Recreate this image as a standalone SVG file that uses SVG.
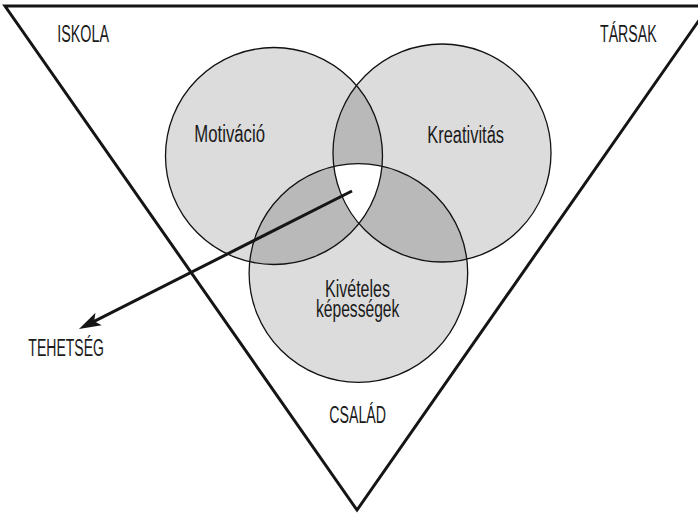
<svg xmlns="http://www.w3.org/2000/svg" width="698" height="513" viewBox="0 0 698 513">
  <style>
    .lbl { font-family: "Liberation Sans", "DejaVu Sans", sans-serif; font-size: 23px; fill: #1a1a1a; }
    .ring { fill: none; stroke: #111; stroke-width: 1.3; }
    .base { fill: #dcdcdc; }
    .pair { fill: #b9b9b9; }
    .core { fill: #ffffff; }
    .frame { fill: none; stroke: #151515; stroke-width: 3; stroke-linejoin: miter; }
    .arrow { stroke: #151515; stroke-width: 3; fill: none; }
  </style>
  <defs>
    <clipPath id="clipMot"><circle cx="274" cy="156" r="108.5"/></clipPath>
    <clipPath id="clipKre"><circle cx="442" cy="153" r="109"/></clipPath>
    <clipPath id="clipKiv"><circle cx="358.4" cy="273" r="109.3"/></clipPath>
    <marker id="head" markerUnits="userSpaceOnUse" viewBox="0 -8 22 16" markerWidth="22" markerHeight="16" refX="10" refY="0" orient="auto">
      <path d="M22,0 L0,-7 L5,0 L0,7 z" fill="#151515"/>
    </marker>
  </defs>

  <!-- outer frame -->
  <g id="frame">
    <polygon class="frame" points="5,6 709,6 357,510"/>
  </g>

  <!-- corner labels -->
  <g id="iskola"><text class="lbl" x="57.3" y="41.7" textLength="51.7" lengthAdjust="spacingAndGlyphs">ISKOLA</text></g>
  <g id="tarsak"><text class="lbl" x="600" y="41.7" textLength="56.7" lengthAdjust="spacingAndGlyphs">TÁRSAK</text></g>
  <g id="csalad"><text class="lbl" x="329.3" y="423.3" textLength="56.7" lengthAdjust="spacingAndGlyphs">CSALÁD</text></g>

  <!-- three circles with shaded overlaps -->
  <g id="venn">
    <circle class="base" cx="274" cy="156" r="108.5"/>
    <circle class="base" cx="442" cy="153" r="109"/>
    <circle class="base" cx="358.4" cy="273" r="109.3"/>
    <g clip-path="url(#clipMot)">
      <circle class="pair" cx="442" cy="153" r="109"/>
      <circle class="pair" cx="358.4" cy="273" r="109.3"/>
    </g>
    <g clip-path="url(#clipKre)">
      <circle class="pair" cx="358.4" cy="273" r="109.3"/>
    </g>
    <g clip-path="url(#clipMot)">
      <g clip-path="url(#clipKre)">
        <circle class="core" cx="358.4" cy="273" r="109.3"/>
      </g>
    </g>
  </g>

  <g id="motivacio">
    <circle class="ring" cx="274" cy="156" r="108.5"/>
    <text class="lbl" x="194.3" y="141.7" textLength="70.7" lengthAdjust="spacingAndGlyphs">Motiváció</text>
  </g>
  <g id="kreativitas">
    <circle class="ring" cx="442" cy="153" r="109"/>
    <text class="lbl" x="427.3" y="142.7" textLength="76.7" lengthAdjust="spacingAndGlyphs">Kreativitás</text>
  </g>
  <g id="kiveteles">
    <circle class="ring" cx="358.4" cy="273" r="109.3"/>
    <text class="lbl" x="325" y="296.7" textLength="65" lengthAdjust="spacingAndGlyphs">Kivételes</text>
    <text class="lbl" x="316" y="317" textLength="83.3" lengthAdjust="spacingAndGlyphs">képességek</text>
  </g>

  <!-- pointer from the common core to the outcome label -->
  <g id="connectors">
    <line class="arrow" x1="352" y1="191" x2="89.7" y2="323.6" marker-end="url(#head)"/>
  </g>

  <g id="tehetseg"><text class="lbl" x="28.3" y="356" textLength="75.7" lengthAdjust="spacingAndGlyphs">TEHETSÉG</text></g>
</svg>
